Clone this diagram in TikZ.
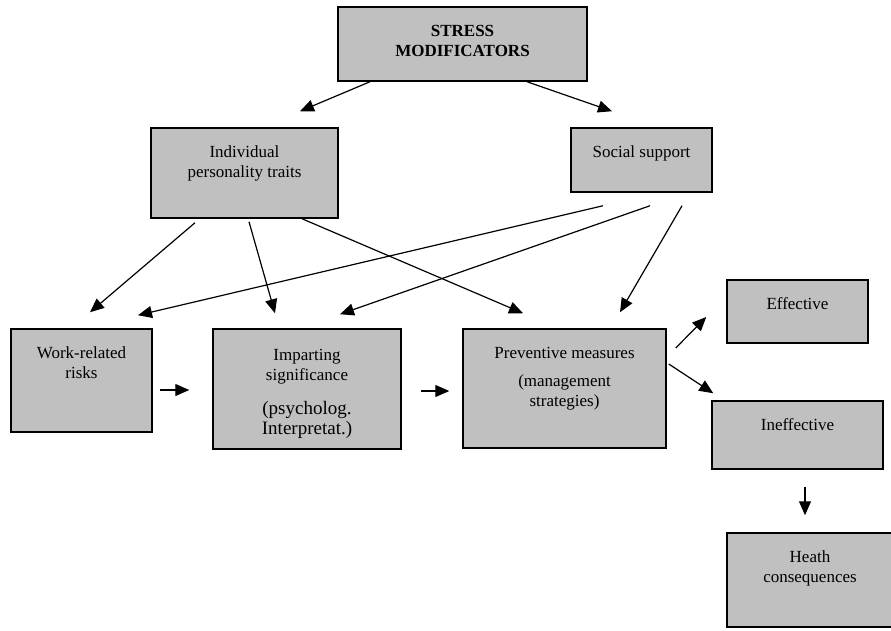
\documentclass[tikz,border=0pt]{standalone}
\usepackage{fontspec}
\setmainfont{Liberation Serif}
\usetikzlibrary{arrows.meta}

\definecolor{boxgray}{RGB}{192,192,192}

\tikzset{
  box/.style={draw=black, line width=1.5pt, fill=boxgray, inner sep=0pt},
  txt/.style={anchor=north, inner sep=0pt, align=center, font=\fontsize{17}{20}\selectfont},
  arr/.style={-{Triangle[length=14pt,width=12pt]}, line width=1.2pt}
}

\begin{document}
\begin{tikzpicture}[x=1pt, y=-1pt]
\useasboundingbox (0,0) rectangle (891,631);

% boxes
\node [box, minimum width=249pt, minimum height=74pt] (stress) at (462.5,44) {};
\node [box, minimum width=187pt, minimum height=90pt] (indiv) at (244.5,173) {};
\node [box, minimum width=141pt, minimum height=64pt] (social) at (641.5,160) {};
\node [box, minimum width=141pt, minimum height=103pt] (work) at (81.5,380.5) {};
\node [box, minimum width=188pt, minimum height=120pt] (imp) at (307,389) {};
\node [box, minimum width=203pt, minimum height=119pt] (prev) at (564.5,388.5) {};
\node [box, minimum width=141pt, minimum height=63pt] (eff) at (797.5,311.5) {};
\node [box, minimum width=171pt, minimum height=68pt] (ineff) at (797.5,435) {};
\node [box, minimum width=166pt, minimum height=94pt] (heath) at (810,580) {};

% texts
\node [txt, font=\fontsize{17}{20}\selectfont\bfseries] (stresstxt) at ([yshift=-16pt]stress.north) {\strut STRESS\\MODIFICATORS};
\node [txt] (indivtxt) at ([yshift=-16pt]indiv.north) {\strut Individual\\personality traits};
\node [txt] (socialtxt) at ([yshift=-16pt]social.north) {\strut Social support};
\node [txt] (worktxt) at ([yshift=-16pt]work.north) {\strut Work-related\\risks};
\node [txt] (imptxt) at ([yshift=-18pt]imp.north) {\strut Imparting\\significance\\[14pt]
  {\fontsize{19}{22}\selectfont (psycholog.}\\{\fontsize{19}{22}\selectfont Interpretat.)}};
\node [txt] (prevtxt) at ([yshift=-16pt]prev.north) {\strut Preventive measures\\[8pt](management\\strategies)};
\node [txt] (efftxt) at ([yshift=-16pt]eff.north) {\strut Effective};
\node [txt] (inefftxt) at ([yshift=-16pt]ineff.north) {\strut Ineffective};
\node [txt] (heathtxt) at ([yshift=-16pt]heath.north) {\strut Heath\\consequences};

% arrows
\draw [arr] ([xshift=-92.5pt]stress.south) -- ([xshift=55.5pt,yshift=16pt]indiv.north);
\draw [arr] ([xshift=64.5pt]stress.south) -- ([xshift=-29.5pt,yshift=16pt]social.north);

\draw [arr] ([xshift=-49.5pt,yshift=-4pt]indiv.south) -- ([xshift=8.5pt,yshift=16pt]work.north);
\draw [arr] ([xshift=4.5pt,yshift=-3pt]indiv.south) -- ([xshift=-32pt,yshift=15pt]imp.north);
\draw [arr] ([xshift=57.5pt]indiv.south) -- ([xshift=-41.5pt,yshift=15pt]prev.north);

\draw [arr] ([xshift=-38.5pt,yshift=-13pt]social.south) -- ([xshift=56.5pt,yshift=13pt]work.north);
\draw [arr] ([xshift=8.5pt,yshift=-13pt]social.south) -- ([xshift=33pt,yshift=14pt]imp.north);
\draw [arr] ([xshift=40.5pt,yshift=-13pt]social.south) -- ([xshift=55.5pt,yshift=16pt]prev.north);

\draw [arr] ([xshift=7pt,yshift=-9.5pt]work.east) -- ([xshift=-23pt,yshift=-1pt]imp.west);
\draw [arr] ([xshift=19pt,yshift=-2pt]imp.east) -- ([xshift=-13pt,yshift=-2.5pt]prev.west);

\draw [arr] ([xshift=9pt,yshift=40.5pt]prev.east) -- ([xshift=-20pt,yshift=-5.5pt]eff.west);
\draw [arr] ([xshift=2pt,yshift=24.5pt]prev.east) -- ([xshift=2pt,yshift=7pt]ineff.north west);
\draw [arr] ([xshift=7.5pt,yshift=-17pt]ineff.south) -- ([xshift=-5pt,yshift=17pt]heath.north);

\end{tikzpicture}
\end{document}
